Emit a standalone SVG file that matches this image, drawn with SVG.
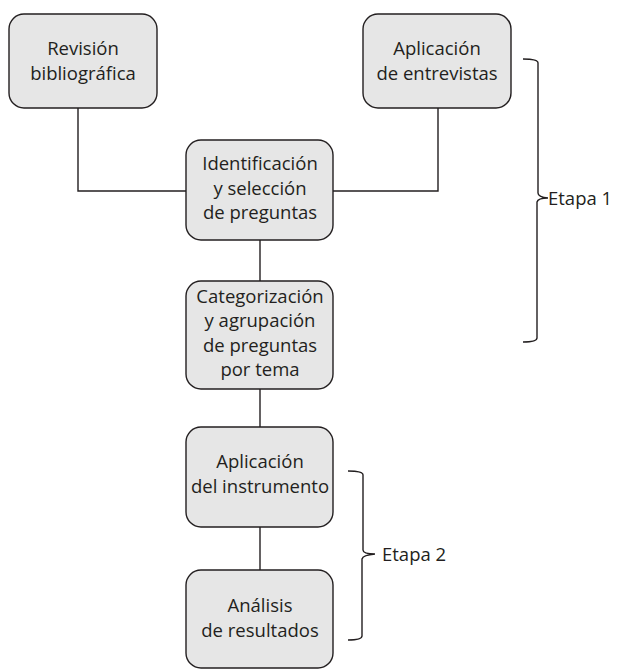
<svg xmlns="http://www.w3.org/2000/svg" width="620" height="670" viewBox="0 0 620 670">
<style>
.box{fill:#e6e6e6;stroke:#231f20;stroke-width:1.4}
.t{font-family:"Open Sans","Liberation Sans",sans-serif;font-size:18.5px;fill:#231f20;text-anchor:middle}
.s{text-anchor:start}
.ln{fill:none;stroke:#231f20;stroke-width:1.4}
</style>
<rect width="620" height="670" fill="#fff"/>
<g id="connectors">
<path class="ln" d="M78 108 V191 H186"/>
<path class="ln" d="M438 108 V191 H333"/>
<path class="ln" d="M260 240 V281"/>
<path class="ln" d="M260 389 V427"/>
<path class="ln" d="M260 527 V570"/>
<path class="ln" d="M523 59 Q538 59 538 63 V193 Q538 197 548 198 Q538 198 537 202 V338 Q537 342 523 342"/>
<path class="ln" d="M348 471 Q363 471 363 475 V550 Q363 554 375 554 Q363 555 362 559 V636 Q362 640 348 640"/>
</g>
<g id="n1"><rect class="box" x="9" y="14" width="148" height="94" rx="15"/>
<text class="t" x="83" y="55">Revisión</text><text class="t" x="83" y="80">bibliográfica</text></g>
<g id="n2"><rect class="box" x="363" y="14" width="148" height="94" rx="15"/>
<text class="t" x="437" y="55">Aplicación</text><text class="t" x="437" y="80">de entrevistas</text></g>
<g id="n3"><rect class="box" x="186" y="140" width="147" height="100" rx="15"/>
<text class="t" x="260" y="170">Identificación</text><text class="t" x="260" y="195">y selección</text><text class="t" x="260" y="219">de preguntas</text></g>
<g id="n4"><rect class="box" x="186" y="281" width="147" height="108" rx="15"/>
<text class="t" x="260" y="303">Categorización</text><text class="t" x="260" y="327">y agrupación</text><text class="t" x="260" y="352">de preguntas</text><text class="t" x="260" y="376">por tema</text></g>
<g id="n5"><rect class="box" x="186" y="427" width="147" height="100" rx="15"/>
<text class="t" x="260" y="468">Aplicación</text><text class="t" x="260" y="493">del instrumento</text></g>
<g id="n6"><rect class="box" x="186" y="570" width="147" height="98" rx="15"/>
<text class="t" x="260" y="612">Análisis</text><text class="t" x="260" y="637">de resultados</text></g>
<g id="labels">
<text class="t s" x="548" y="205">Etapa 1</text>
<text class="t s" x="382" y="561">Etapa 2</text>
</g>
</svg>
